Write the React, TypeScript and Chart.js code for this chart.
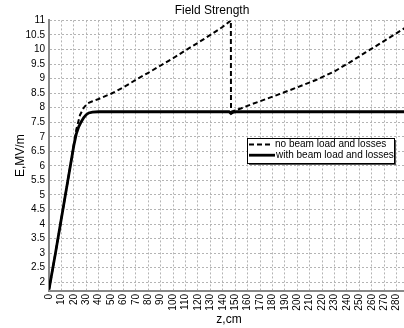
import React, { useEffect, useRef } from "react";
import { Chart, registerables } from "chart.js";

Chart.register(...registerables);

const TITLE = "Field Strength";
const X_TITLE = "z,cm";
const Y_TITLE = "E,MV/m";
const SERIES_NAMES = ["no beam load and losses", "with beam load and losses"];

const Z_DASHED = [0, 5, 10, 15, 18, 20, 22, 25, 28, 31, 35, 40, 50, 60, 70, 80, 90, 100, 110, 120, 130, 140, 146.5, 146.6, 155, 162, 175, 189, 200, 215, 230, 242, 255, 268, 283, 290];
const E_DASHED = [1.75, 2.95, 4.2, 5.45, 6.2, 6.75, 7.25, 7.75, 8.0, 8.15, 8.22, 8.3, 8.48, 8.7, 8.96, 9.2, 9.45, 9.7, 9.97, 10.23, 10.5, 10.78, 11.0, 7.86, 7.98, 8.1, 8.3, 8.52, 8.7, 8.95, 9.25, 9.55, 9.9, 10.24, 10.64, 10.83];

const Z_SOLID = [0, 5, 10, 15, 18, 20, 22, 24, 26, 28, 30, 32, 35, 40, 145, 146.6, 148, 150, 290];
const E_SOLID = [1.75, 2.95, 4.2, 5.45, 6.2, 6.7, 7.1, 7.35, 7.52, 7.66, 7.76, 7.82, 7.85, 7.86, 7.86, 7.8, 7.84, 7.86, 7.86];

const X_TICKS = [0, 10, 20, 30, 40, 50, 60, 70, 80, 90, 100, 110, 120, 130, 140, 150, 160, 170, 180, 190, 200, 210, 220, 230, 240, 250, 260, 270, 280, 290];
const Y_TICKS = [2, 2.5, 3, 3.5, 4, 4.5, 5, 5.5, 6, 6.5, 7, 7.5, 8, 8.5, 9, 9.5, 10, 10.5, 11];

const X_MIN = 0;
const X_MAX = 290;
const Y_MIN = 1.7;
const Y_MAX = 11;

const FONT = "'Liberation Sans', Arial, sans-serif";

const boxLegend = {
  id: "boxLegend",
  afterDraw(chart: any) {
    const ctx = chart.ctx as CanvasRenderingContext2D;
    const x = 247, y = 138, w = 147, h = 25;
    ctx.save();
    ctx.fillStyle = "#555";
    ctx.fillRect(x + 2, y + 2, w, h);
    ctx.fillStyle = "#fff";
    ctx.fillRect(x, y, w, h);
    ctx.strokeStyle = "#000";
    ctx.lineWidth = 1;
    ctx.strokeRect(x + 0.5, y + 0.5, w, h);
    chart.data.datasets.forEach((ds: any, i: number) => {
      const ly = y + 6.5 + i * 10.7;
      ctx.setLineDash(ds.borderDash || []);
      ctx.strokeStyle = ds.borderColor;
      ctx.lineWidth = ds.borderWidth;
      ctx.beginPath();
      ctx.moveTo(x + 2, ly);
      ctx.lineTo(x + (i ? 28 : 24), ly);
      ctx.stroke();
      ctx.setLineDash([]);
      ctx.fillStyle = "#000";
      ctx.font = `10px ${FONT}`;
      ctx.textBaseline = "middle";
      ctx.fillText(ds.label, x + (i ? 29 : 28), ly);
    });
    ctx.restore();
  },
};

export default function App() {
  const ref = useRef<HTMLCanvasElement>(null);
  useEffect(() => {
    const chart = new Chart(ref.current!, {
      type: "line",
      data: {
        datasets: [
          {
            label: SERIES_NAMES[0],
            data: Z_DASHED.map((z, i) => ({ x: z, y: E_DASHED[i] })),
            borderColor: "#000",
            borderWidth: 2,
            borderDash: [5, 3],
            pointRadius: 0,
            tension: 0,
            fill: false,
          },
          {
            label: SERIES_NAMES[1],
            data: Z_SOLID.map((z, i) => ({ x: z, y: E_SOLID[i] })),
            borderColor: "#000",
            borderWidth: 2.8,
            pointRadius: 0,
            tension: 0,
            fill: false,
          },
        ],
      },
      options: {
        responsive: false,
        animation: false,
        layout: { padding: 0 },
        plugins: {
          legend: { display: false },
          tooltip: { enabled: false },
          title: {
            display: true,
            text: TITLE,
            color: "#000",
            font: { family: FONT, size: 12, weight: "normal" },
            padding: { top: 3, bottom: 3 },
          },
        },
        scales: {
          x: {
            type: "linear",
            min: X_MIN,
            max: X_MAX,
            afterBuildTicks: (s: any) => {
              s.ticks = X_TICKS.map((v) => ({ value: v }));
            },
            afterFit: (s: any) => {
              s.height = 37;
            },
            ticks: {
              autoSkip: false,
              maxRotation: 90,
              minRotation: 90,
              padding: 3,
              color: "#000",
              font: { family: FONT, size: 10 },
              callback: (v: any) => String(v),
            },
            grid: { color: "#b4b4b4", lineWidth: 1, drawTicks: false },
            border: { color: "#888", width: 2, dash: [2, 2] },
            title: {
              display: true,
              text: X_TITLE,
              color: "#000",
              font: { family: FONT, size: 12 },
              padding: { top: 0, bottom: 1 },
            },
          },
          y: {
            type: "linear",
            min: Y_MIN,
            max: Y_MAX,
            afterBuildTicks: (s: any) => {
              s.ticks = Y_TICKS.map((v) => ({ value: v }));
            },
            afterFit: (s: any) => {
              s.width = 49;
            },
            ticks: {
              autoSkip: false,
              padding: 4,
              color: "#000",
              font: { family: FONT, size: 10 },
              callback: (v: any) => String(v),
            },
            grid: { color: "#b4b4b4", lineWidth: 1, drawTicks: false },
            border: { color: "#888", width: 2, dash: [2, 2] },
            title: {
              display: true,
              text: Y_TITLE,
              color: "#000",
              font: { family: FONT, size: 12 },
              padding: { top: 13, bottom: 0 },
            },
          },
        },
      },
      plugins: [boxLegend],
    } as any);
    return () => chart.destroy();
  }, []);
  return (
    <div
      style={{
        position: "fixed",
        left: 0,
        top: 0,
        width: 404,
        height: 328,
        overflow: "hidden",
        background: "#fff",
      }}
    >
      <canvas ref={ref} width={424} height={328} style={{ display: "block" }} />
    </div>
  );
}
